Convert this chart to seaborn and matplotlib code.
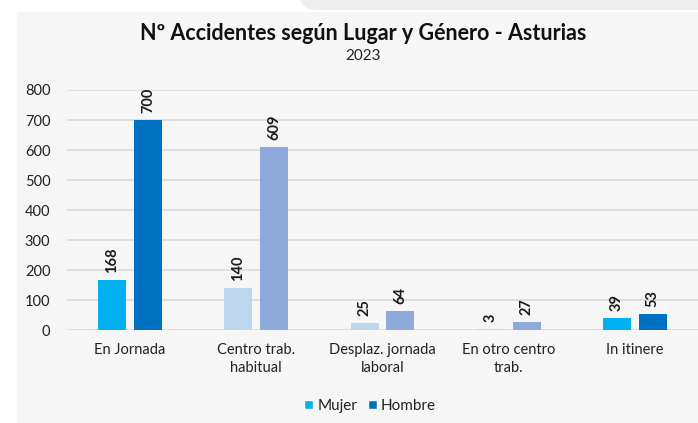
import matplotlib
matplotlib.use("Agg")
import matplotlib.pyplot as plt
import seaborn as sns
import pandas as pd
from matplotlib.patches import Rectangle, FancyBboxPatch

# Data
categorias = ["En Jornada", "Centro trab.\nhabitual", "Desplaz. jornada\nlaboral",
              "En otro centro\ntrab.", "In itinere"]
generos = ["Mujer", "Hombre"]
mujer = [168, 140, 25, 3, 39]
hombre = [700, 609, 64, 27, 53]
yticks = [0, 100, 200, 300, 400, 500, 600, 700, 800]
titulo = "Nº Accidentes según Lugar y Género - Asturias"
subtitulo = "2023"

# Per-bar colours (each place has its own shade pair)
colores_mujer = ["#00b0f0", "#bdd7ee", "#bdd7ee", "#bdd7ee", "#00b0f0"]
colores_hombre = ["#0070c0", "#8eaadb", "#8eaadb", "#8eaadb", "#0070c0"]

df = pd.DataFrame({
    "Lugar": categorias * 2,
    "Género": [generos[0]] * len(mujer) + [generos[1]] * len(hombre),
    "Accidentes": mujer + hombre,
})

sns.set_theme(style="white")
plt.rcParams["font.family"] = ["Lato", "DejaVu Sans"]

W, H = 698, 423
fig = plt.figure(figsize=(W / 100, H / 100), dpi=100)
fig.patch.set_facecolor("white")

# Light panel behind the chart
fig.patches.append(Rectangle((17 / W, 0), 1, 1 - 12 / H, transform=fig.transFigure,
                             facecolor="#f6f6f6", edgecolor="none", zorder=-2))
fig.patches.append(FancyBboxPatch((300 / W, 1 - 10 / H), 460 / W, 40 / H,
                                  boxstyle="round,pad=0,rounding_size=0.03",
                                  transform=fig.transFigure, facecolor="#eeeeee",
                                  edgecolor="none", zorder=-2))

ax = fig.add_axes([67 / W, 1 - 330 / H, 631 / W, 240 / H])
ax.set_zorder(2)
ax.set_facecolor("none")

sns.barplot(data=df, x="Lugar", y="Accidentes", hue="Género", hue_order=generos,
            palette=[colores_mujer[0], colores_hombre[0]], width=0.567, gap=0.22,
            ax=ax, legend=False, zorder=3)

for cont, cols in zip(ax.containers, [colores_mujer, colores_hombre]):
    for bar, c in zip(cont, cols):
        bar.set_facecolor(c)
        bar.set_edgecolor("none")
    ax.bar_label(cont, labels=[f"{int(v)}" for v in cont.datavalues], rotation=90,
                 padding=5, fontsize=10.5, fontweight="bold", color="#1a1a1a")

ax.set_ylim(0, 800)
ax.set_xlim(-0.5, len(categorias) - 0.5)
ax.set_yticks(yticks)
ax.yaxis.grid(True, color="#d9d9d9", lw=1.1, zorder=0)
ax.set_axisbelow(True)
for s in ax.spines.values():
    s.set_visible(False)
ax.set_xlabel("")
ax.set_ylabel("")
ax.tick_params(axis="y", labelsize=10.5, colors="#222222", pad=12, length=0)
ax.tick_params(axis="x", labelsize=10.5, colors="#222222", pad=9, length=0)
for t in ax.get_xticklabels():
    t.set_linespacing(1.4)

fig.text(363 / W, 1 - 33 / H, titulo, ha="center", va="center",
         fontsize=15.5, fontweight="bold", color="#111111")
fig.text(363 / W, 1 - 56 / H, subtitulo, ha="center", va="center",
         fontsize=11, color="#222222")

handles = [Rectangle((0, 0), 1, 1, facecolor=colores_mujer[0]),
           Rectangle((0, 0), 1, 1, facecolor=colores_hombre[0])]
fig.legend(handles, generos, loc="center", bbox_to_anchor=(370 / W, 1 - 406 / H),
           ncol=2, frameon=False, fontsize=11, handlelength=0.6, handleheight=0.6,
           handletextpad=0.25, columnspacing=0.7, labelcolor="#222222")

fig.savefig("out.png", dpi=100, facecolor="white")
